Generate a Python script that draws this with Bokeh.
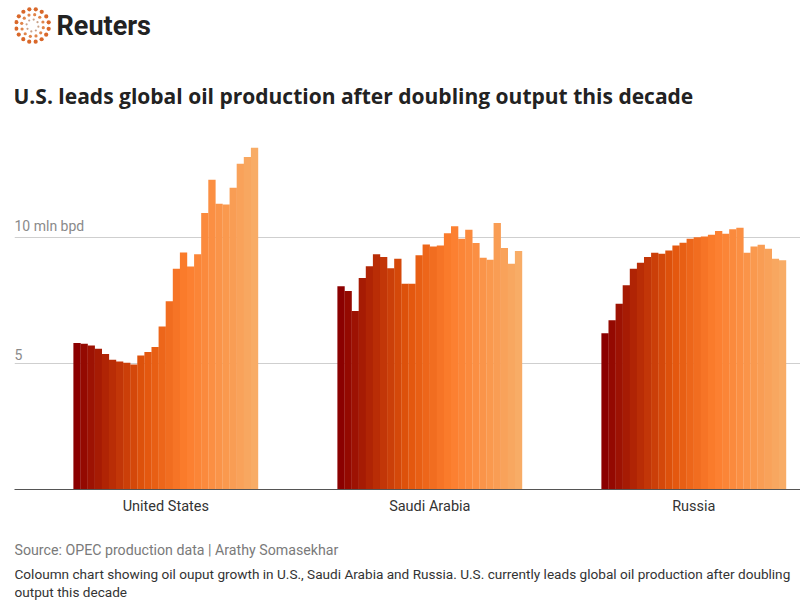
import numpy as np
from bokeh.plotting import figure
from bokeh.layouts import column
from bokeh.models import Range1d, FixedTicker, ColumnDataSource, Grid
from bokeh.core.properties import value
from bokeh.embed import file_html
from bokeh.resources import INLINE

# ---------------- data ----------------
countries = ["United States", "Saudi Arabia", "Russia"]
years = list(range(2000, 2026))
us = [5.81, 5.78, 5.71, 5.58, 5.38, 5.15, 5.08, 5.03, 4.96, 5.32, 5.45, 5.65, 6.47,
      7.47, 8.76, 9.40, 8.85, 9.33, 10.97, 12.29, 11.34, 11.31, 11.97, 12.92, 13.19, 13.56]
saudi = [8.06, 7.87, 7.08, 8.39, 8.86, 9.33, 9.22, 8.78, 9.15, 8.16, 8.16, 9.29, 9.72,
         9.64, 9.68, 10.17, 10.44, 9.95, 10.30, 9.78, 9.19, 9.11, 10.57, 9.58, 8.96, 9.46]
russia = [6.20, 6.71, 7.37, 8.10, 8.76, 9.00, 9.22, 9.39, 9.35, 9.48, 9.68, 9.79, 9.95,
          10.01, 10.04, 10.11, 10.25, 10.15, 10.32, 10.38, 9.39, 9.64, 9.71, 9.55, 9.15, 9.09]
series = [us, saudi, russia]
ytick_values = [5, 10]
ytick_labels = ["5", "10 mln bpd"]

title = "U.S. leads global oil production after doubling output this decade"
source = "Source: OPEC production data | Arathy Somasekhar"
desc1 = ("Coloumn chart showing oil ouput growth in U.S., Saudi Arabia and Russia. "
         "U.S. currently leads global oil production after doubling")
desc2 = "output this decade"

FONT = "Roboto"

# ---------------- colours (gradient per year) ----------------
anchors = [(0.0, (0x8b, 0x00, 0x00)), (0.38, (0xe2, 0x55, 0x0c)),
           (0.62, (0xfc, 0x7e, 0x2e)), (1.0, (0xf8, 0xac, 0x66))]
def grad(t):
    for (t0, c0), (t1, c1) in zip(anchors[:-1], anchors[1:]):
        if t <= t1:
            f = (t - t0) / (t1 - t0)
            c = [int(round(a + (b - a) * f)) for a, b in zip(c0, c1)]
            return "#%02x%02x%02x" % tuple(c)
    return "#%02x%02x%02x" % anchors[-1][1]
n = len(years)
colors = [grad(i / (n - 1)) for i in range(n)]

W = 800
L = 14

def blank(h):
    f = figure(width=W, height=h, x_range=Range1d(L, W), y_range=Range1d(h, 0),
               x_axis_type=None, y_axis_type=None,
               output_backend="svg", toolbar_location=None, min_border=0,
               min_border_left=L)
    f.grid.visible = False
    f.outline_line_color = None
    return f

# ---------------- header ----------------
head = blank(125)
cx, cy = 32, 25
rings = [(16.5, 16, 4.2, "#d9682a"), (11.0, 12, 3.2, "#e0854a"), (6.0, 8, 2.2, "#c9a38a")]
for r, k, s, col in rings:
    ang = np.linspace(0, 2 * np.pi, k, endpoint=False) + 0.2
    head.scatter(cx + r * np.cos(ang), cy + r * np.sin(ang), size=s,
                 color=col, line_color=None)
head.text(x=[56], y=[25.5], text=["Reuters"], text_font=value(FONT), text_font_style="bold",
          text_font_size="27px", text_color="#222222", text_baseline="middle")
head.text(x=[13], y=[95], text=[title], text_font=value("Open Sans"), text_font_style="bold",
          text_font_size="21px", text_color="#222222", text_baseline="middle")

# ---------------- main chart ----------------
bar_px = 7.1
frame_w = W - L
xmax = frame_w / bar_px
first_left = (73 - L) / bar_px
spacing = 264 / bar_px

xs, tops, cols = [], [], []
centers = []
for g, vals in enumerate(series):
    left = first_left + g * spacing
    centers.append(left + n / 2)
    for i, v in enumerate(vals):
        xs.append(left + i + 0.5)
        tops.append(v)
        cols.append(colors[i])
src = ColumnDataSource(dict(x=xs, top=tops, color=cols))

p = figure(width=W, height=395, x_range=Range1d(0, xmax), y_range=Range1d(0, 14.44),
           y_axis_type=None,
           output_backend="svg", toolbar_location=None,
           min_border_left=L, min_border_right=0, min_border_top=0, min_border_bottom=31)
p.outline_line_color = None
p.xgrid.visible = False
p.add_layout(Grid(dimension=1, ticker=FixedTicker(ticks=ytick_values),
                  grid_line_color="#cfcfcf", grid_line_width=1))

p.vbar(x="x", top="top", bottom=0, width=1.03, color="color", line_color=None, source=src)

p.xaxis.ticker = FixedTicker(ticks=centers)
p.xaxis.major_label_overrides = {c: name for c, name in zip(centers, countries)}
p.xaxis.major_tick_line_color = None
p.xaxis.major_tick_out = 0
p.xaxis.major_tick_in = 0
p.xaxis.minor_tick_line_color = None
p.xaxis.axis_line_color = "#555555"
p.xaxis.axis_line_width = 1
p.xaxis.major_label_text_font = FONT
p.xaxis.major_label_text_font_size = "14.5px"
p.xaxis.major_label_text_color = "#333333"
p.xaxis.major_label_standoff = 8

p.text(x=[0, 0], y=ytick_values, text=ytick_labels, x_offset=0, y_offset=-3,
       text_font=value(FONT), text_font_size="14px", text_color="#8a8a8a",
       text_baseline="bottom")

# ---------------- footer ----------------
foot = blank(86)
foot.text(x=[14], y=[29], text=[source], text_font=value(FONT), text_font_size="14.2px",
          text_color="#7a7a7a", text_baseline="middle")
foot.text(x=[14, 14], y=[53, 71], text=[desc1, desc2], text_font=value(FONT),
          text_font_size="13.6px", text_color="#333333", text_baseline="middle")

layout = column(head, p, foot, spacing=0)
open("out.html", "w").write(file_html(layout, INLINE))
